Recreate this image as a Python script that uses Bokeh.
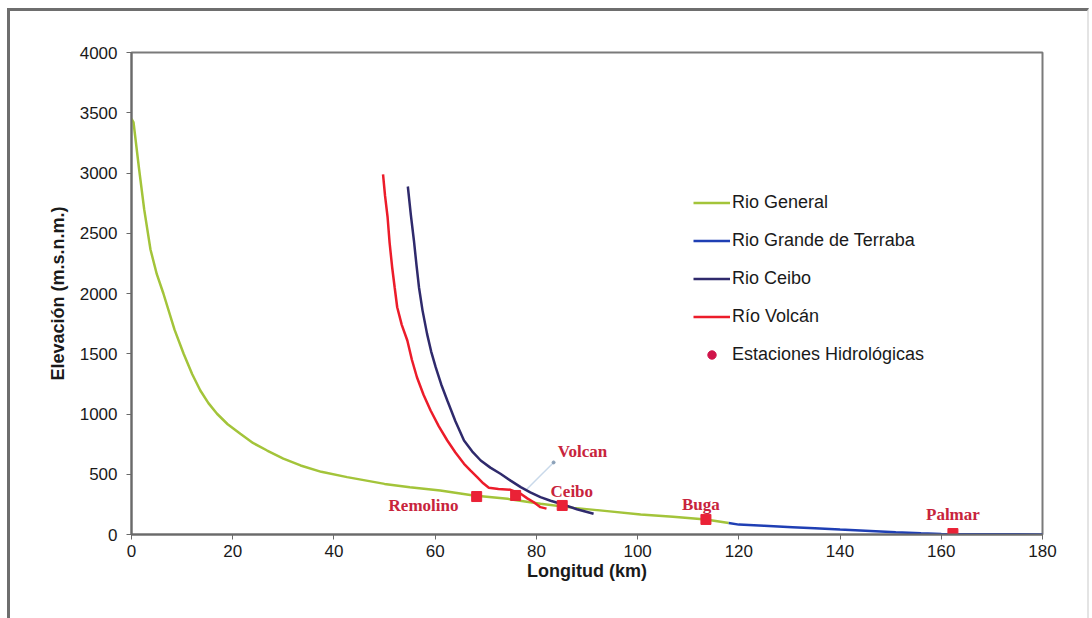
from bokeh.plotting import figure
from bokeh.models import (Range1d, SingleIntervalTicker, Legend, LegendItem,
                          ColumnDataSource, InlineStyleSheet)
from bokeh.core.properties import value
from bokeh.embed import file_html
from bokeh.resources import INLINE

# ---------------- data ----------------
general_x = [0, 0.4, 1.45, 2.5, 3.75, 5.0, 6.3, 8.5, 10.3, 12.0, 13.6, 15.2, 16.9, 19.0, 21.5,
             24.0, 26.8, 30.0, 33.4, 37.5, 42.6, 50, 55, 61, 67.6, 74.3, 80.8, 87.4, 94,
             100.6, 107, 113.5, 118]
general_y = [3450, 3420, 3048, 2700, 2365, 2160, 2000, 1700, 1500, 1330, 1195, 1090, 1002, 915, 836,
             760, 697, 630, 573, 520, 476, 420, 392, 365, 324, 296, 256, 221, 194,
             166, 148, 125, 95]

terraba_x = [118, 120, 125, 130.6, 135, 140, 145, 151, 156, 160, 165, 170, 180]
terraba_y = [95, 82, 72, 61, 52, 41, 32, 19, 10, 4, 3, 2, 1]

ceibo_x = [54.6, 55.2, 55.8, 56.3, 56.8, 57.5, 58.4, 59.2, 60.1, 61.2, 62.4, 64.0, 65.7, 67.3,
           69.0, 70.9, 72.9, 74.9, 76.9, 78.8, 80.8, 82.8, 84.8, 88.0, 91.3]
ceibo_y = [2888, 2650, 2440, 2240, 2052, 1860, 1665, 1520, 1389, 1245, 1112, 940, 780, 690,
           614, 555, 504, 447, 393, 350, 310, 280, 255, 210, 172]

volcan_x = [49.7, 50.1, 50.6, 51.0, 51.5, 52.0, 52.5, 53.4, 54.5, 55.4, 56.4, 57.7, 59.1, 60.7,
            62.4, 64.0, 65.7, 67.0, 68.3, 69.5, 70.6, 72.5, 74.9, 76.9, 78.2, 79.5, 80.8, 82.0]
volcan_y = [2988, 2810, 2633, 2420, 2218, 2050, 1886, 1740, 1610, 1450, 1305, 1160, 1029, 900,
            780, 680, 587, 530, 476, 425, 388, 378, 371, 338, 300, 268, 227, 215]

station_names = ["Remolino", "Volcan", "Ceibo", "Buga", "Palmar"]
station_x = [68.2, 75.9, 85.1, 113.5, 162.3]
station_y = [315, 324, 241, 125, 8]
label_x = [57.7, 89.1, 87.0, 112.5, 162.3]
label_y = [241, 689, 357, 249, 166]

series_names = ["Rio General", "Rio Grande de Terraba", "Rio Ceibo", "Río Volcán",
                "Estaciones Hidrológicas"]

x_ticks_interval = 20
y_ticks_interval = 500

# ---------------- figure ----------------
frame_css = InlineStyleSheet(css="""
:host::after {
  content: "";
  position: absolute;
  left: 7px; top: 8px; width: 1077px; height: 620px;
  border-top: 3px solid #6e6e6e;
  border-left: 3px solid #6e6e6e;
  border-right: 2px solid #e4e4e4;
  pointer-events: none;
  z-index: 10;
}
""")

p = figure(width=1092, height=618, output_backend="svg", toolbar_location=None,
           x_range=Range1d(0, 180), y_range=Range1d(0, 4000),
           min_border_left=131, min_border_right=50, min_border_top=52, min_border_bottom=84,
           stylesheets=[frame_css])
p.background_fill_color = "white"
p.border_fill_color = "white"
p.outline_line_color = "#7a7a7a"
p.outline_line_width = 2
p.xgrid.visible = False
p.ygrid.visible = False

p.xaxis.ticker = SingleIntervalTicker(interval=x_ticks_interval)
p.yaxis.ticker = SingleIntervalTicker(interval=y_ticks_interval)
for ax in (p.xaxis[0], p.yaxis[0]):
    ax.axis_line_color = "#6a6a6a"
    ax.axis_line_width = 2
    ax.major_tick_line_color = "#6a6a6a"
    ax.major_tick_out = 5
    ax.major_tick_in = 0
    ax.minor_tick_line_color = None
    ax.major_label_text_font = "Liberation Sans"
    ax.major_label_text_font_size = "17px"
    ax.major_label_text_color = "#1a1a1a"
    ax.axis_label_text_font = "Liberation Sans"
    ax.axis_label_text_font_size = "18px"
    ax.axis_label_text_font_style = "bold"
    ax.axis_label_text_color = "#1a1a1a"
p.xaxis.axis_label = "Longitud (km)"
p.yaxis.axis_label = "Elevación (m.s.n.m.)"
p.xaxis.major_label_standoff = 5
p.xaxis.axis_label_standoff = 1
p.yaxis.major_label_standoff = 9
p.yaxis.axis_label_standoff = 9

# leader line for Volcan label
p.line([83.4, 78.0], [598, 372], line_color="#c9d9ea", line_width=1.5)
p.scatter([83.4], [598], size=3, color="#8aa0b8")

r_gen = p.line(general_x, general_y, line_color="#a3c43a", line_width=2.5)
r_ter = p.line(terraba_x, terraba_y, line_color="#1f3fb4", line_width=2.5)
r_vol = p.line(volcan_x, volcan_y, line_color="#ec1c2a", line_width=2.5)
r_cei = p.line(ceibo_x, ceibo_y, line_color="#2f2a6c", line_width=2.5)

src = ColumnDataSource(dict(x=station_x, y=station_y, lx=label_x, ly=label_y, name=station_names))
r_st = p.scatter("x", "y", source=src, size=10, marker="square", fill_color="#ea2236",
                 line_color="#ea2236")
p.text("lx", "ly", text="name", source=src, text_font=value("Liberation Serif"),
       text_font_size="17px", text_font_style="bold", text_color="#c8243c",
       text_align="center", text_baseline="middle")

# legend
r_leg_st = p.scatter([-10], [-10], size=7, marker="circle", fill_color="#d0144a",
                     line_color="#d0144a")
legend = Legend(items=[
    LegendItem(label=series_names[0], renderers=[r_gen]),
    LegendItem(label=series_names[1], renderers=[r_ter]),
    LegendItem(label=series_names[2], renderers=[r_cei]),
    LegendItem(label=series_names[3], renderers=[r_vol]),
    LegendItem(label=series_names[4], renderers=[r_leg_st]),
], location=(562, 169))
legend.border_line_color = None
legend.background_fill_alpha = 0
legend.padding = 0
legend.margin = 0
legend.spacing = 17
legend.glyph_width = 37
legend.glyph_height = 21
legend.label_height = 21
legend.label_standoff = 2
legend.label_text_font = "Liberation Sans"
legend.label_text_font_size = "18px"
legend.label_text_color = "#1a1a1a"
p.add_layout(legend, "center")

open("out.html", "w").write(file_html(p, INLINE))
